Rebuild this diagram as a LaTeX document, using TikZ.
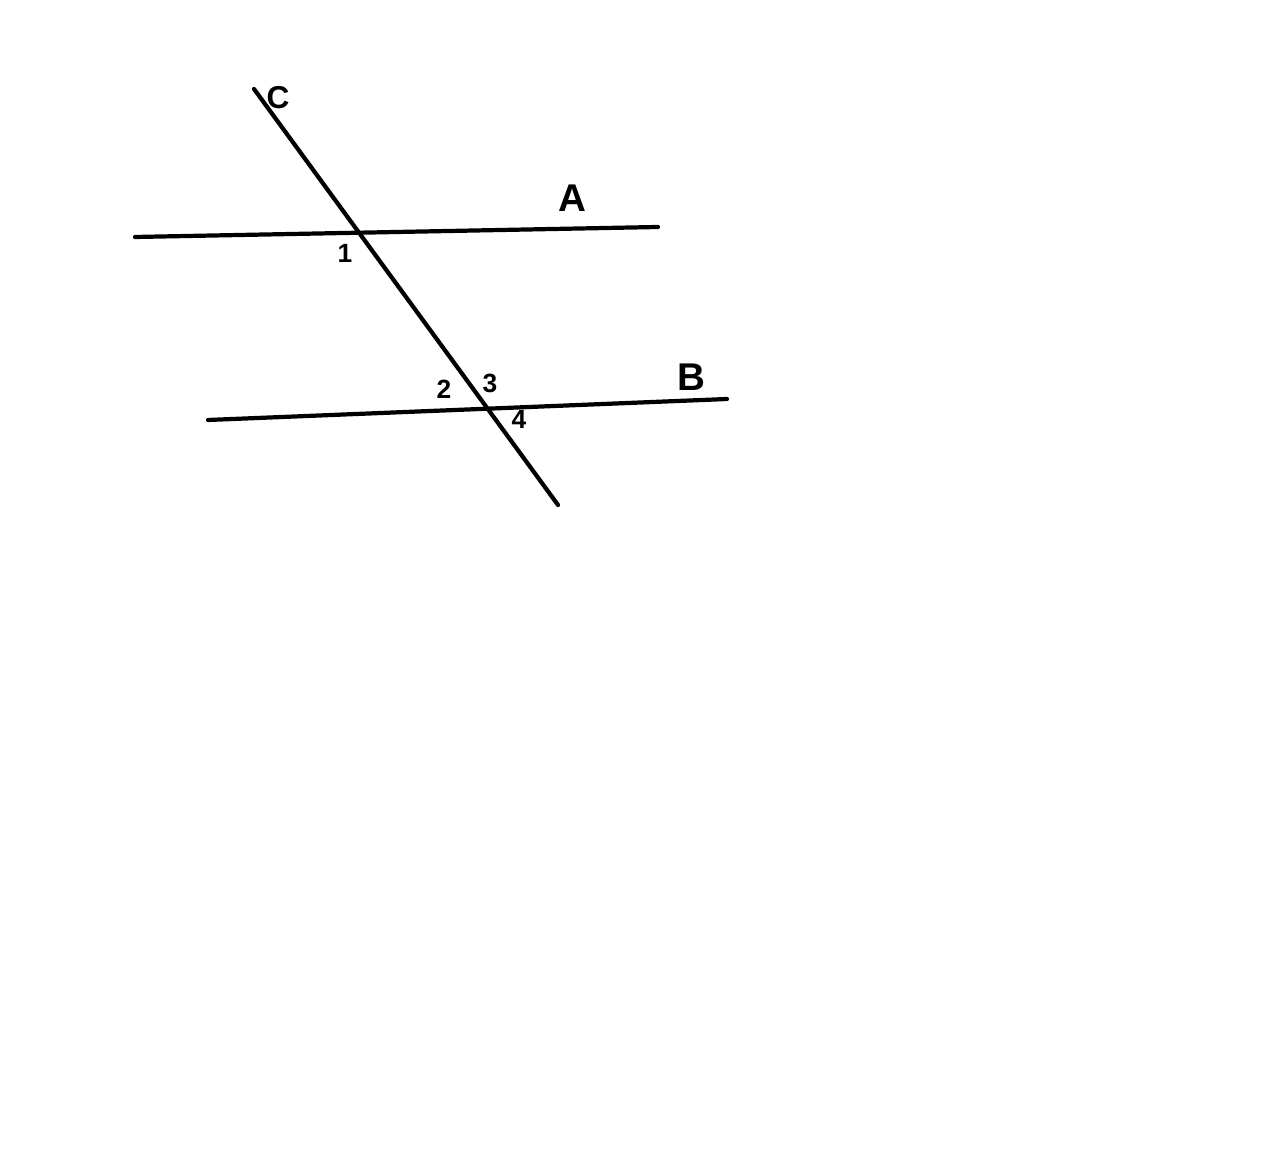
\documentclass[tikz,border=0pt]{standalone}
\usepackage{fontspec}
\setmainfont{Liberation Sans}
\usepackage{tikz}

\begin{document}
\begin{tikzpicture}
      [line width=1.2pt,line cap=round,
       big label/.style={inner sep=0pt,font=\fontsize{11}{11}\selectfont\bfseries},
       small label/.style={inner sep=0pt,font=\fontsize{7.5}{7.5}\selectfont\bfseries}]
        \useasboundingbox (0,0) rectangle (12.74,11.72);

        \coordinate (a1) at (1.35,9.35);
        \coordinate (a2) at (6.58,9.45);
        \coordinate (b1) at (2.08,7.52);
        \coordinate (b2) at (7.27,7.73);
        \coordinate (c1) at (2.54,10.83);
        \coordinate (c2) at (5.58,6.67);

        \draw (a1) -- (a2);
        \draw (b1) -- (b2);
        \draw (c1) -- (c2);

        \node[big label] (la) at (5.72,9.74) {A};
        \node[big label] (lb) at (6.91,7.95) {B};
        \node[big label,font=\fontsize{9}{9}\selectfont\bfseries] (lc) at (2.78,10.74) {C};
        \node[small label] (n1) at (3.45,9.19) {1};
        \node[small label] (n2) at (4.44,7.83) {2};
        \node[small label] (n3) at (4.90,7.89) {3};
        \node[small label] (n4) at (5.19,7.53) {4};

      \end{tikzpicture}
\end{document}
